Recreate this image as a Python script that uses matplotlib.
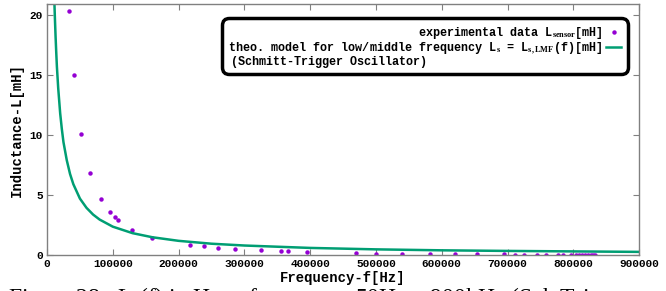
import numpy as np
import matplotlib
matplotlib.use("Agg")
import matplotlib.pyplot as plt
from matplotlib.lines import Line2D

# measured inductance of the sensor
freq_meas = [33900, 41000, 51200, 65300, 82000, 95700, 103300, 107400, 128700,
             159600, 217300, 239100, 260300, 286200, 325200, 355600, 366700,
             394700, 469100, 500500, 540000, 581600, 619600, 654000, 694000,
             710800, 725400, 744200, 758800, 776600, 783700, 796800, 804400,
             808500, 813000, 818000, 822500, 826500, 830000, 833000]
L_meas = [20.35, 15.0, 10.1, 6.86, 4.64, 3.6, 3.14, 2.95, 2.1,
          1.45, 0.86, 0.72, 0.61, 0.5, 0.39, 0.3, 0.3,
          0.22, 0.14, 0.11, 0.08, 0.07, 0.06, 0.06, 0.05,
          0.04, 0.04, 0.03, 0.03, 0.03, 0.02, 0.02, 0.02,
          0.02, 0.02, 0.02, 0.02, 0.02, 0.02, 0.02]

# theoretical model curve
freq_model = [11000, 12000, 13000, 14000, 15000, 17000, 20000, 22500, 25000,
              30000, 35000, 40000, 50000, 60000, 70000, 80000, 100000, 130000,
              160000, 200000, 250000, 300000, 400000, 500000, 600000, 700000,
              800000, 900000]
L_model = [21.4, 19.7, 18.2, 16.9, 15.7, 13.9, 11.8, 10.5, 9.4,
           7.9, 6.75, 5.9, 4.7, 3.93, 3.37, 2.95, 2.36, 1.82,
           1.48, 1.18, 0.94, 0.79, 0.59, 0.47, 0.39, 0.34,
           0.30, 0.26]

xticks = [0, 100000, 200000, 300000, 400000, 500000, 600000, 700000, 800000, 900000]
yticks = [0, 5, 10, 15, 20]

plt.rcParams['font.family'] = ['Liberation Mono', 'DejaVu Sans Mono']
plt.rcParams['font.weight'] = 'bold'
plt.rcParams['mathtext.fontset'] = 'custom'
plt.rcParams['mathtext.rm'] = 'Liberation Serif:bold'
plt.rcParams['mathtext.it'] = 'Liberation Serif:bold'

fig = plt.figure(figsize=(6.66, 2.91), dpi=100)
ax = fig.add_axes([0.0706, 0.1237, 0.889, 0.8623])

pts, = ax.plot(freq_meas, L_meas, 'o', color='#9400d3', markersize=3.2, markeredgewidth=0)
crv, = ax.plot(freq_model, L_model, '-', color='#009e73', linewidth=1.8)

ax.set_xlim(0, 900000)
ax.set_ylim(0, 20.9)
ax.set_xticks(xticks)
ax.set_yticks(yticks)
ax.set_xticklabels([str(t) for t in xticks])
ax.tick_params(direction='in', top=True, right=True, labelsize=8, length=4,
               color='#808080', pad=3)
for lab in ax.get_xticklabels() + ax.get_yticklabels():
    lab.set_fontweight('bold')
for sp in ax.spines.values():
    sp.set_color('#808080')
    sp.set_linewidth(1)

ax.set_xlabel('Frequency-f[Hz]', fontsize=10, fontweight='bold', labelpad=1)
ax.set_ylabel('Inductance-L[mH]', fontsize=10, fontweight='bold', labelpad=4)

blank = Line2D([], [], linestyle='none', marker='none')
labels = [r'experimental data L$_{\mathrm{sensor}}$[mH]',
          'theo. model for low/middle frequency L$_{\\mathrm{s}}$ = L$_{\\mathrm{s,LMF}}$(f)[mH]',
          '(Schmitt-Trigger Oscillator)' + ' ' * 25]
leg = ax.legend([pts, crv, blank], labels, loc='upper right', bbox_to_anchor=(0.987, 0.958),
                markerfirst=False, fontsize=8.5, handlelength=1.3, handletextpad=0.3,
                labelspacing=-0.05, borderpad=0.35, fancybox=True, framealpha=1, numpoints=1)
frame = leg.get_frame()
frame.set_edgecolor('black')
frame.set_linewidth(2.5)
frame.set_boxstyle('round,pad=0.2,rounding_size=0.6')
for t in leg.get_texts():
    t.set_fontweight('bold')

fig.text(0.012, 0.022, 'Figure 28:  L$_s$(f) in H vs. frequency  50Hz \u2013 900kHz (Sch.Trig.',
         fontsize=17, family='Liberation Serif', fontweight='normal', va='top')

fig.savefig('out.png', dpi=100)
